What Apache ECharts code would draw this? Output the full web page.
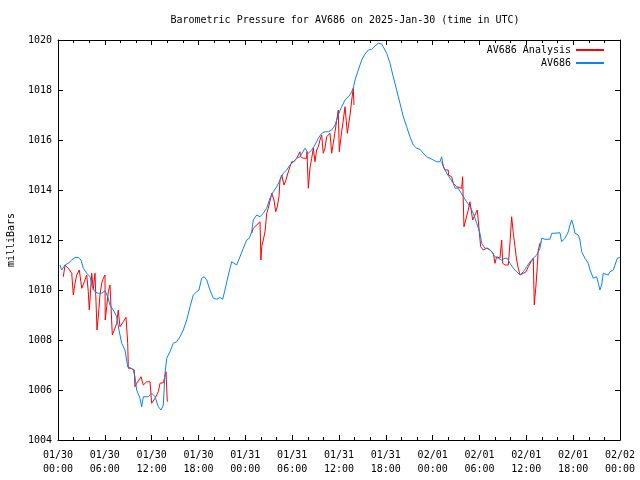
<!DOCTYPE html>
<html>
<head>
<meta charset="utf-8">
<script src="https://cdn.jsdelivr.net/npm/echarts@6/dist/echarts.min.js"></script>
<style>html,body{margin:0;padding:0;background:#fff}#c{width:640px;height:480px}</style>
</head>
<body>
<div id="c"></div>
<script>
// Hours since 2025-01-30 00:00 UTC
const tickLabels = ['01/30\n00:00','01/30\n06:00','01/30\n12:00','01/30\n18:00','01/31\n00:00','01/31\n06:00','01/31\n12:00','01/31\n18:00','02/01\n00:00','02/01\n06:00','02/01\n12:00','02/01\n18:00','02/02\n00:00'];

const blueHours = [0.26,0.47,0.90,1.32,1.76,2.18,2.60,2.95,3.24,3.68,4.10,4.39,4.74,5.16,5.60,6.02,6.37,6.66,7.08,7.52,7.81,8.16,8.37,8.58,8.93,9.35,9.65,9.86,10.08,10.50,10.72,10.93,11.57,12.00,12.43,12.85,13.20,13.49,13.71,13.93,14.35,14.77,15.21,15.63,16.05,16.49,16.91,17.33,17.77,18.06,18.41,18.74,19.05,19.47,19.90,20.33,20.75,21.10,21.39,21.82,22.25,22.46,22.89,23.32,23.74,24.17,24.51,24.81,25.02,25.46,25.88,26.30,26.74,27.16,27.58,28.02,28.44,28.86,29.30,29.72,30.14,30.58,31.00,31.64,32.07,32.50,32.92,33.35,33.78,34.20,34.63,35.06,35.49,35.91,36.34,36.77,37.41,37.83,38.05,38.47,38.91,39.33,39.75,40.19,40.61,41.03,41.25,41.47,41.67,42.11,42.53,42.95,43.39,43.81,44.24,44.67,45.09,45.52,45.95,46.38,46.80,47.23,47.66,48.08,48.51,48.94,49.15,49.36,49.80,50.22,50.64,50.86,51.28,51.92,52.36,52.78,53.20,53.64,54.06,54.28,54.70,55.13,55.56,55.98,56.41,56.84,57.26,57.56,57.90,58.33,58.76,59.19,59.61,60.04,60.47,60.89,61.11,61.33,61.75,61.97,62.39,63.03,63.25,63.67,63.89,64.31,64.52,64.95,65.37,65.59,65.81,66.01,66.23,66.65,66.87,67.09,67.51,67.94,68.16,68.58,69.01,69.22,69.43,69.65,69.85,70.07,70.50,70.72,71.14,71.36,71.65,72.0];
const blueValues = [1011.0,1010.8,1011.0,1011.07,1011.2,1011.3,1011.3,1011.2,1010.87,1010.67,1010.53,1010.13,1009.93,1009.87,1009.87,1009.97,1009.73,1009.4,1009.2,1008.93,1008.4,1007.87,1007.87,1007.6,1006.93,1006.87,1006.8,1006.53,1006.0,1005.67,1005.33,1005.73,1005.73,1005.87,1005.73,1005.33,1005.2,1005.4,1006.67,1007.27,1007.53,1007.87,1007.93,1008.13,1008.4,1008.8,1009.33,1009.8,1009.93,1010.0,1010.47,1010.53,1010.4,1010.0,1009.67,1009.63,1009.7,1009.63,1010.0,1010.6,1011.13,1011.2,1011.0,1011.33,1011.67,1012.0,1012.07,1012.33,1012.8,1013.0,1012.93,1013.07,1013.27,1013.67,1013.93,1014.13,1014.4,1014.67,1014.8,1015.0,1015.13,1015.27,1015.33,1015.67,1015.47,1015.6,1015.8,1016.07,1016.27,1016.33,1016.33,1016.4,1016.6,1017.0,1017.33,1017.6,1017.8,1018.07,1018.4,1018.8,1019.2,1019.44,1019.6,1019.63,1019.76,1019.87,1019.8,1019.84,1019.73,1019.47,1019.07,1018.53,1018.0,1017.47,1016.93,1016.53,1016.13,1015.8,1015.67,1015.63,1015.47,1015.33,1015.27,1015.2,1015.13,1015.13,1015.33,1014.93,1014.67,1014.47,1014.27,1014.07,1014.07,1013.73,1013.53,1013.33,1013.07,1012.67,1012.27,1011.87,1011.67,1011.67,1011.53,1011.33,1011.27,1011.2,1011.27,1011.27,1011.07,1010.87,1010.73,1010.6,1010.73,1010.93,1011.13,1011.27,1011.2,1011.4,1011.67,1012.07,1012.03,1012.03,1012.27,1012.27,1012.33,1012.29,1011.93,1012.07,1012.33,1012.6,1012.8,1012.6,1012.27,1012.2,1012.0,1011.53,1011.27,1011.07,1010.8,1010.47,1010.53,1010.27,1010.0,1010.2,1010.67,1010.6,1010.6,1010.73,1010.8,1011.0,1011.27,1011.3];

const redHours = [0.68,0.90,1.32,1.76,1.96,2.18,2.40,2.73,3.04,3.37,3.68,3.88,4.01,4.32,4.52,4.74,4.96,5.00,5.16,5.38,5.60,5.80,6.02,6.05,6.24,6.44,6.66,6.88,6.96,7.30,7.52,7.72,7.85,7.94,8.37,8.71,8.93,9.01,9.35,9.77,9.86,10.08,10.38,10.63,10.93,11.36,11.79,12.00,12.43,12.85,13.07,13.49,13.71,13.84,14.00,
  19.0,
  24.81,25.02,25.88,26.00,26.10,26.30,26.52,26.74,26.94,27.29,27.38,27.67,27.89,28.09,28.31,28.44,28.66,28.95,29.21,29.38,29.72,29.94,30.23,30.58,31.00,31.07,31.43,31.86,31.90,32.07,32.28,32.50,32.71,32.92,33.14,33.35,33.56,33.78,33.99,34.20,34.42,34.63,34.85,35.06,35.27,35.49,35.71,35.91,36.04,36.34,36.55,36.77,37.07,37.20,37.41,37.76,37.83,37.92,
  43.0,
  49.15,49.36,49.57,50.00,50.02,50.43,50.64,51.07,51.72,51.84,52.01,52.23,52.56,52.78,53.12,53.42,53.72,53.97,54.15,54.49,54.70,54.92,55.35,55.77,55.98,56.20,56.62,56.84,56.97,57.26,57.69,57.90,58.12,58.33,58.55,58.76,58.97,59.19,59.61,59.96,60.25,60.60,60.89,61.02,61.24,61.40,61.53,61.75,61.97];
const redValues = [1010.53,1011.0,1010.87,1010.67,1009.8,1010.27,1010.6,1010.8,1010.07,1010.33,1010.6,1009.93,1009.2,1010.67,1010.0,1010.67,1010.7,1008.4,1008.93,1009.8,1010.27,1010.47,1010.6,1008.8,1009.33,1009.93,1010.2,1010.2,1008.2,1008.47,1008.67,1009.2,1009.2,1008.53,1008.73,1008.91,1007.87,1006.87,1006.87,1006.8,1006.13,1006.27,1006.4,1006.53,1006.2,1006.33,1006.33,1005.47,1005.67,1005.93,1006.27,1006.29,1006.29,1006.73,1005.53,
  null,
  1012.27,1012.47,1012.73,1011.2,1011.73,1012.0,1012.33,1013.07,1013.27,1013.73,1013.87,1013.6,1013.13,1013.33,1013.73,1014.4,1014.6,1014.2,1014.4,1014.6,1014.93,1015.13,1015.13,1015.27,1015.53,1015.33,1015.27,1015.27,1015.53,1014.07,1014.87,1015.27,1015.67,1015.13,1015.6,1015.73,1016.0,1016.2,1015.47,1015.67,1016.13,1016.2,1016.27,1015.47,1015.87,1016.33,1016.8,1017.2,1015.53,1016.33,1016.8,1017.33,1016.27,1016.53,1017.0,1017.93,1018.07,1017.4,
  null,
  1015.13,1015.07,1014.8,1014.8,1014.6,1014.53,1014.27,1014.13,1014.07,1014.53,1012.53,1012.8,1013.2,1013.53,1012.8,1013.0,1013.2,1013.27,1011.73,1011.6,1011.53,1011.67,1011.6,1011.47,1011.07,1011.33,1011.27,1012.0,1011.07,1011.0,1011.0,1011.87,1012.93,1012.27,1011.73,1011.2,1010.87,1010.6,1010.67,1010.73,1010.93,1011.13,1011.27,1009.4,1010.2,1010.93,1011.6,1011.87,1011.93];

const seriesNames = ['AV686 Analysis', 'AV686'];
const FONT = 'DejaVu Sans Mono';

const redData = redHours.map((h, i) => [h, redValues[i] === null ? '-' : redValues[i]]);
const blueData = blueHours.map((h, i) => [h, blueValues[i]]);

const axisCommon = {
  axisLine: { show: true, onZero: false, lineStyle: { color: '#000', width: 1 } },
  splitLine: { show: false }
};

const chart = echarts.init(document.getElementById('c'), null, { renderer: 'canvas' });
chart.setOption({
  backgroundColor: '#fff',
  animation: false,
  textStyle: { fontFamily: FONT },
  title: {
    text: 'Barometric Pressure for AV686 on 2025-Jan-30 (time in UTC)',
    left: 340, top: 10, textAlign: 'center',
    textStyle: { fontFamily: FONT, fontSize: 10, fontWeight: 'normal', color: '#000' }
  },
  legend: {
    orient: 'vertical', right: 31, top: 39, align: 'right',
    itemWidth: 28, itemHeight: 2, itemGap: 1, icon: 'rect',
    textStyle: { fontFamily: FONT, fontSize: 10, color: '#000', lineHeight: 12 },
    data: seriesNames
  },
  grid: { left: 58, right: 20, top: 40, bottom: 40, containLabel: false, outerBoundsMode: 'none' },
  xAxis: [
    Object.assign({}, axisCommon, {
      type: 'value', min: 0, max: 72, interval: 6, position: 'bottom',
      axisTick: { show: true, inside: true, length: 5, lineStyle: { color: '#000' } },
      minorTick: { show: true, splitNumber: 3, length: 3, lineStyle: { color: '#000' } },
      axisLabel: { fontFamily: FONT, fontSize: 10, color: '#000', margin: 8, lineHeight: 14,
        formatter: v => tickLabels[Math.round(v / 6)] }
    }),
    Object.assign({}, axisCommon, {
      type: 'value', min: 0, max: 72, interval: 6, position: 'top',
      axisTick: { show: true, inside: true, length: 5, lineStyle: { color: '#000' } },
      minorTick: { show: true, splitNumber: 3, length: 3, lineStyle: { color: '#000' } },
      axisLabel: { show: false }
    })
  ],
  yAxis: [
    Object.assign({}, axisCommon, {
      type: 'value', min: 1004, max: 1020, interval: 2, position: 'left',
      name: 'milliBars', nameLocation: 'middle', nameGap: 42, nameRotate: 90,
      nameTextStyle: { fontFamily: FONT, fontSize: 10, color: '#000' },
      axisTick: { show: true, inside: true, length: 5, lineStyle: { color: '#000' } },
      axisLabel: { fontFamily: FONT, fontSize: 10, color: '#000', margin: 6, formatter: v => String(v) }
    }),
    Object.assign({}, axisCommon, {
      type: 'value', min: 1004, max: 1020, interval: 2, position: 'right',
      axisTick: { show: true, inside: true, length: 5, lineStyle: { color: '#000' } },
      axisLabel: { show: false }
    })
  ],
  series: [
    { name: seriesNames[0], type: 'line', data: redData, showSymbol: false, symbol: 'none',
      connectNulls: false, lineStyle: { color: '#ff0000', width: 1 }, itemStyle: { color: '#ff0000' }, z: 2 },
    { name: seriesNames[1], type: 'line', data: blueData, showSymbol: false, symbol: 'none',
      lineStyle: { color: '#0a84f5', width: 1 }, itemStyle: { color: '#0a84f5' }, z: 3 }
  ]
});
</script>
</body>
</html>
